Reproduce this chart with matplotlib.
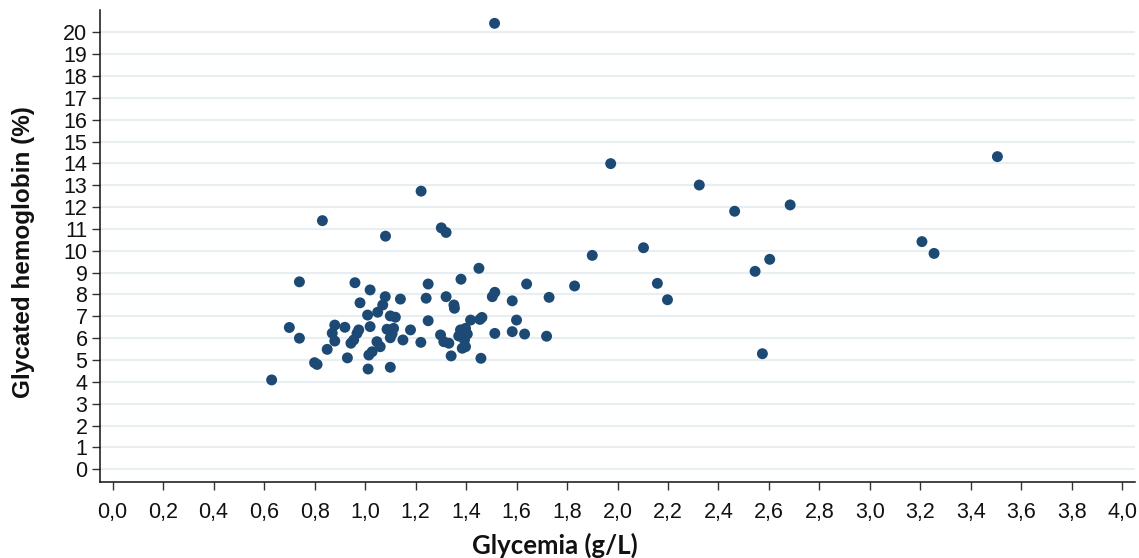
import matplotlib
matplotlib.use("Agg")
import matplotlib.pyplot as plt
from matplotlib.ticker import FixedLocator, FuncFormatter

glycemia = [0.63, 0.80, 0.81, 0.85, 0.93, 0.74, 0.70, 0.74, 0.88, 0.87,
            0.88, 0.92, 0.96, 1.02, 1.08, 1.14, 0.98, 1.07, 1.05, 1.01,
            1.10, 1.12, 1.02, 0.975, 0.968, 1.087, 1.113, 1.107, 1.100, 1.18,
            0.955, 0.944, 1.047, 1.060, 1.150, 1.221, 1.028, 1.015, 1.012, 1.100,
            1.25, 1.38, 1.242, 1.321, 1.352, 1.354, 1.25, 1.418, 1.455, 1.463,
            1.299, 1.378, 1.398, 1.405, 1.371, 1.394, 1.312, 1.332, 1.385, 1.398,
            1.341, 1.459, 1.451, 1.504, 1.514, 1.583, 1.729, 1.640, 1.600, 1.514,
            1.583, 1.632, 1.719, 1.830, 1.90, 2.103, 2.158, 2.198, 2.324, 2.464,
            2.684, 2.545, 2.603, 2.574, 3.206, 3.254, 3.505, 1.973, 1.513, 1.222,
            0.831, 1.081, 1.302, 1.321]
hba1c = [4.09, 4.88, 4.80, 5.49, 5.10, 6.00, 6.49, 8.58, 6.60, 6.23,
         5.87, 6.50, 8.54, 8.21, 7.90, 7.79, 7.62, 7.52, 7.19, 7.06,
         7.02, 6.96, 6.53, 6.38, 6.22, 6.41, 6.45, 6.20, 6.02, 6.38,
         5.92, 5.77, 5.84, 5.61, 5.92, 5.81, 5.38, 5.23, 4.59, 4.67,
         8.48, 8.70, 7.83, 7.90, 7.52, 7.37, 6.80, 6.83, 6.86, 6.95,
         6.15, 6.38, 6.45, 6.19, 6.10, 5.92, 5.84, 5.77, 5.54, 5.61,
         5.19, 5.08, 9.20, 7.90, 8.10, 7.71, 7.87, 8.48, 6.83, 6.22,
         6.30, 6.19, 6.09, 8.39, 9.79, 10.14, 8.51, 7.76, 13.01, 11.81,
         12.10, 9.06, 9.61, 5.29, 10.42, 9.88, 14.31, 13.99, 20.41, 12.73,
         11.38, 10.67, 11.05, 10.84]

x_ticks = [i * 0.2 for i in range(21)]
y_ticks = list(range(0, 21))
x_label = "Glycemia (g/L)"
y_label = "Glycated hemoglobin (%)"

fig = plt.figure(figsize=(11.39, 5.58), dpi=100)
ax = fig.add_axes([100 / 1139, 1 - 482.3 / 558, 1035 / 1139, (482.3 - 10.45) / 558])

ax.scatter(glycemia, hba1c, s=62, color="#1c4a74", edgecolors="none", zorder=3)

ax.set_xlim(-0.05, 4.05)
ax.set_ylim(-0.595, 21.0)
ax.xaxis.set_major_locator(FixedLocator(x_ticks))
ax.yaxis.set_major_locator(FixedLocator(y_ticks))
ax.xaxis.set_major_formatter(FuncFormatter(lambda v, p: f"{v:.1f}".replace(".", ",")))
ax.yaxis.set_major_formatter(FuncFormatter(lambda v, p: f"{int(round(v))}"))

ax.grid(axis="y", color="#e8eef1", linewidth=1.6, zorder=0)
ax.set_axisbelow(True)
for s in ["top", "right"]:
    ax.spines[s].set_visible(False)
for s in ["left", "bottom"]:
    ax.spines[s].set_color("#111111")
    ax.spines[s].set_linewidth(1.1)

ax.tick_params(axis="both", direction="out", length=6, width=1.0, color="#333333",
               labelsize=15.5, labelcolor="#111111")
for lab in ax.get_xticklabels() + ax.get_yticklabels():
    lab.set_fontfamily("Liberation Sans")
ax.tick_params(axis="y", pad=3)
ax.tick_params(axis="x", pad=8)

fig.text(555 / 1139, 1 - 554 / 558, x_label, ha="center", va="baseline",
         fontsize=18.5, fontweight="bold", family="Lato", color="#111111")
fig.text(24 / 1139, 1 - 251.7 / 558, y_label, ha="center", va="center", rotation=90,
         fontsize=17.5, fontweight="bold", family="Liberation Sans", color="#111111")

fig.savefig("out.png", dpi=100)
